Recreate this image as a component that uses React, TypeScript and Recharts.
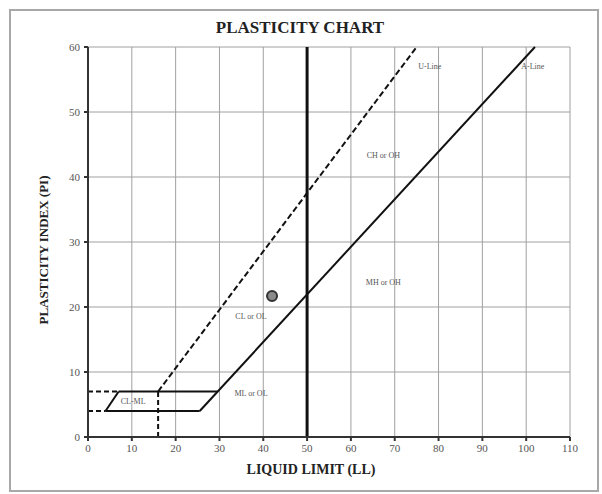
import {
  ComposedChart,
  CartesianGrid,
  XAxis,
  YAxis,
  ReferenceLine,
  ReferenceDot,
  Scatter,
} from "recharts";

// axis ticks
const llTicks = [0, 10, 20, 30, 40, 50, 60, 70, 80, 90, 100, 110];
const piTicks = [0, 10, 20, 30, 40, 50, 60];

// classification lines, as [LL, PI] end points
const aLine = [[25.5, 4], [102, 60]];
const uLine = [[16, 7], [75, 60]];
const llFifty = [[50, 0], [50, 60]];

// CL-ML hatch zone edges (right edge is the A-line itself)
const clmlEdges = [
  [[4, 4], [25.5, 4]],
  [[7, 7], [29.6, 7]],
  [[4, 4], [7, 7]],
];

// dashed guides back to the axes
const guideLines = [
  [[0, 4], [4, 4]],
  [[0, 7], [7, 7]],
  [[16, 0], [16, 7]],
];

// tested sample
const sample = [{ ll: 42, pi: 21.7 }];

// zone / line captions
const zoneLabels = ["U-Line", "A-Line", "CH or OH", "MH or OH", "CL or OL", "CL-ML", "ML or OL"];
const zoneLL = [78, 101.5, 67.4, 67.4, 37.2, 10.3, 37.2];
const zonePI = [57, 57, 43.4, 23.8, 18.6, 5.5, 6.8];

const serif = "'Liberation Serif', 'Times New Roman', serif";

const toSeg = (s: number[][]) => s.map(([x, y]) => ({ x, y }));

export default function App() {
  return (
    <div
      style={{
        position: "absolute",
        left: 0,
        top: 0,
        width: 602,
        height: 494,
        background: "#fff",
        fontFamily: serif,
      }}
    >
      <div
        style={{
          position: "absolute",
          left: 9,
          top: 9,
          width: 586,
          height: 479,
          border: "2px solid #a8a8a8",
        }}
      />
      <div
        style={{
          position: "absolute",
          left: 300,
          top: 28,
          transform: "translate(-50%, -50%)",
          fontSize: 17,
          fontWeight: "bold",
          color: "#222",
          whiteSpace: "nowrap",
        }}
      >
        PLASTICITY CHART
      </div>
      <div
        style={{
          position: "absolute",
          left: 44,
          top: 250,
          transform: "translate(-50%, -50%) rotate(-90deg)",
          fontSize: 13,
          fontWeight: "bold",
          color: "#222",
          whiteSpace: "nowrap",
        }}
      >
        PLASTICITY INDEX (PI)
      </div>
      <div
        style={{
          position: "absolute",
          left: 311,
          top: 470,
          transform: "translate(-50%, -50%)",
          fontSize: 14,
          fontWeight: "bold",
          color: "#222",
          whiteSpace: "nowrap",
        }}
      >
        LIQUID LIMIT (LL)
      </div>

      <div style={{ position: "absolute", left: 0, top: 0 }}>
        <ComposedChart
          width={602}
          height={494}
          margin={{ top: 47, right: 32, bottom: 27, left: 48 }}
        >
          <CartesianGrid
            stroke="#a0a0a0"
            strokeWidth={1}
            horizontalValues={piTicks}
            verticalValues={llTicks}
          />
          <XAxis
            type="number"
            dataKey="ll"
            domain={[0, 110]}
            ticks={llTicks}
            interval={0}
            height={30}
            tickSize={4}
            tickMargin={3}
            stroke="#333"
            strokeWidth={2}
            tick={{ fontSize: 11, fill: "#555", fontFamily: serif }}
          />
          <YAxis
            type="number"
            dataKey="pi"
            domain={[0, 60]}
            ticks={piTicks}
            interval={0}
            width={40}
            tickSize={4}
            tickMargin={4}
            stroke="#333"
            strokeWidth={2}
            tick={{ fontSize: 11, fill: "#555", fontFamily: serif }}
          />

          {guideLines.map((s, i) => (
            <ReferenceLine
              key={`g${i}`}
              segment={toSeg(s)}
              stroke="#111"
              strokeWidth={2}
              strokeDasharray="5 3"
            />
          ))}
          {clmlEdges.map((s, i) => (
            <ReferenceLine key={`z${i}`} segment={toSeg(s)} stroke="#111" strokeWidth={2} />
          ))}
          <ReferenceLine segment={toSeg(llFifty)} stroke="#111" strokeWidth={3} />
          <ReferenceLine
            segment={toSeg(uLine)}
            stroke="#111"
            strokeWidth={2}
            strokeDasharray="6 3"
          />
          <ReferenceLine segment={toSeg(aLine)} stroke="#111" strokeWidth={2} />

          {zoneLabels.map((t, i) => (
            <ReferenceDot
              key={t}
              x={zoneLL[i]}
              y={zonePI[i]}
              r={0}
              fill="none"
              stroke="none"
              label={{
                value: t,
                position: "center",
                fontSize: 8,
                fill: "#555",
                fontFamily: serif,
              }}
            />
          ))}

          <Scatter
            data={sample}
            dataKey="pi"
            fill="#8a8a8a"
            stroke="#333"
            strokeWidth={2}
            shape={(p: any) => (
              <circle cx={p.cx} cy={p.cy} r={5} fill="#8a8a8a" stroke="#333" strokeWidth={2} />
            )}
            isAnimationActive={false}
          />
        </ComposedChart>
      </div>
    </div>
  );
}
